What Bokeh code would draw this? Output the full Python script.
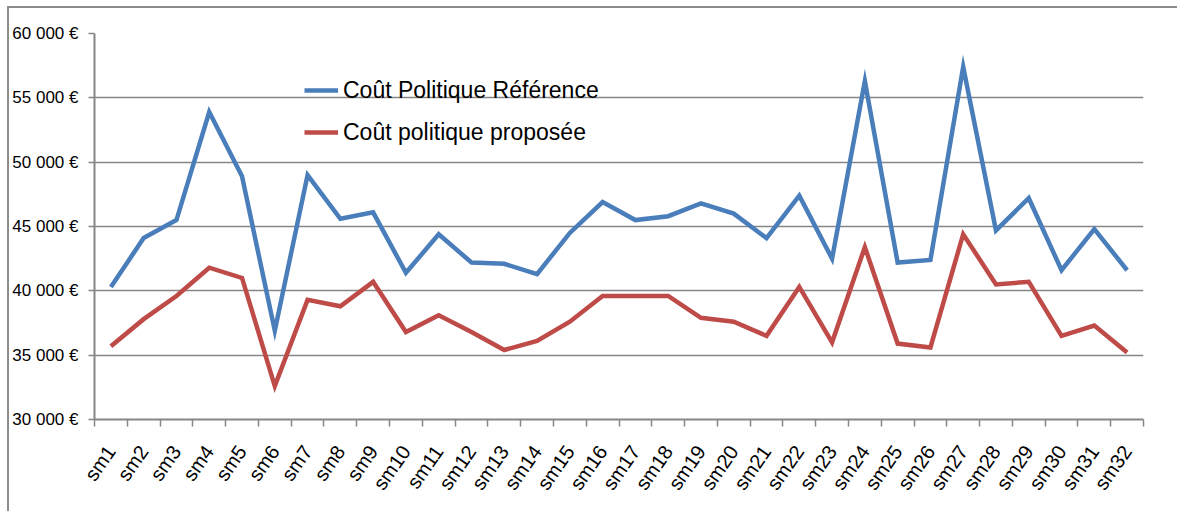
from bokeh.plotting import figure
from bokeh.models import Range1d, FixedTicker, Legend, LegendItem
from bokeh.embed import file_html
from bokeh.resources import INLINE

categories = [f"sm{i}" for i in range(1, 33)]
cout_reference = [40300, 44100, 45500, 53900, 48900, 36900, 49000, 45600, 46100, 41400,
                  44400, 42200, 42100, 41300, 44500, 46900, 45500, 45800, 46800, 46000,
                  44100, 47400, 42500, 56300, 42200, 42400, 57400, 44700, 47200, 41600,
                  44800, 41600]
cout_propose = [35700, 37800, 39600, 41800, 41000, 32600, 39300, 38800, 40700, 36800,
                38100, 36800, 35400, 36100, 37600, 39600, 39600, 39600, 37900, 37600,
                36500, 40300, 36000, 43400, 35900, 35600, 44400, 40500, 40700, 36500,
                37300, 35200]
y_ticks = [30000, 35000, 40000, 45000, 50000, 55000, 60000]
y_tick_labels = ["30 000 €", "35 000 €", "40 000 €", "45 000 €", "50 000 €", "55 000 €", "60 000 €"]
series_names = ["Coût Politique Référence", "Coût politique proposée"]

FONT = "'Liberation Sans Narrow', 'Arial Narrow', 'Liberation Sans', sans-serif"
GRAY = "#868686"

xs = list(range(1, len(categories) + 1))

p = figure(width=1170, height=505, output_backend="svg", toolbar_location=None,
           x_range=Range1d(0.5, len(categories) + 0.5), y_range=Range1d(30000, 60000),
           min_border_left=84, min_border_top=25, min_border_right=36, min_border_bottom=94)
p.margin = (6, 0, 0, 7)
p.styles = {"border-top": "2px solid #8c8c8c", "border-left": "2px solid #8c8c8c"}
p.outline_line_color = None
p.background_fill_color = "white"
p.border_fill_color = "white"

r1 = p.line(xs, cout_reference, line_color="#4A7EBB", line_width=4.5, line_join="miter")
r2 = p.line(xs, cout_propose, line_color="#BE4B48", line_width=4.5, line_join="miter")

# x axis
p.xaxis.ticker = FixedTicker(ticks=xs, minor_ticks=[x - 0.5 for x in xs] + [xs[-1] + 0.5])
p.xaxis.major_label_overrides = {x: c for x, c in zip(xs, categories)}
p.xaxis.major_tick_line_color = None
p.xaxis.minor_tick_line_color = GRAY
p.xaxis.minor_tick_line_width = 1.5
p.xaxis.minor_tick_out = 7
p.xaxis.minor_tick_in = 0
p.xaxis.axis_line_color = GRAY
p.xaxis.axis_line_width = 2
p.xaxis.major_label_orientation = 0.96
p.xaxis.major_label_text_font = FONT
p.xaxis.major_label_text_font_size = "20px"
p.xaxis.major_label_text_color = "black"
p.xaxis.major_label_standoff = 21
p.xgrid.grid_line_color = None

# y axis
p.yaxis.ticker = FixedTicker(ticks=y_ticks)
p.yaxis.major_label_overrides = {t: l for t, l in zip(y_ticks, y_tick_labels)}
p.yaxis.minor_tick_line_color = None
p.yaxis.major_tick_line_color = GRAY
p.yaxis.major_tick_line_width = 1.5
p.yaxis.major_tick_out = 6
p.yaxis.major_tick_in = 0
p.yaxis.axis_line_color = GRAY
p.yaxis.axis_line_width = 2
p.yaxis.major_label_text_font = FONT
p.yaxis.major_label_text_font_size = "17px"
p.yaxis.major_label_text_color = "black"
p.yaxis.major_label_standoff = 10
p.ygrid.grid_line_color = GRAY
p.ygrid.grid_line_width = 1.5

legend = Legend(items=[LegendItem(label=series_names[0], renderers=[r1]),
                       LegendItem(label=series_names[1], renderers=[r2])],
                location=(210, 272), orientation="vertical")
legend.border_line_color = None
legend.background_fill_alpha = 0
legend.label_text_font = FONT
legend.label_text_font_size = "23px"
legend.label_text_color = "black"
legend.glyph_width = 34
legend.glyph_height = 30
legend.label_height = 30
legend.spacing = 12
legend.padding = 0
legend.margin = 0
legend.label_standoff = 5
p.add_layout(legend)

open("out.html", "w").write(file_html(p, INLINE))
